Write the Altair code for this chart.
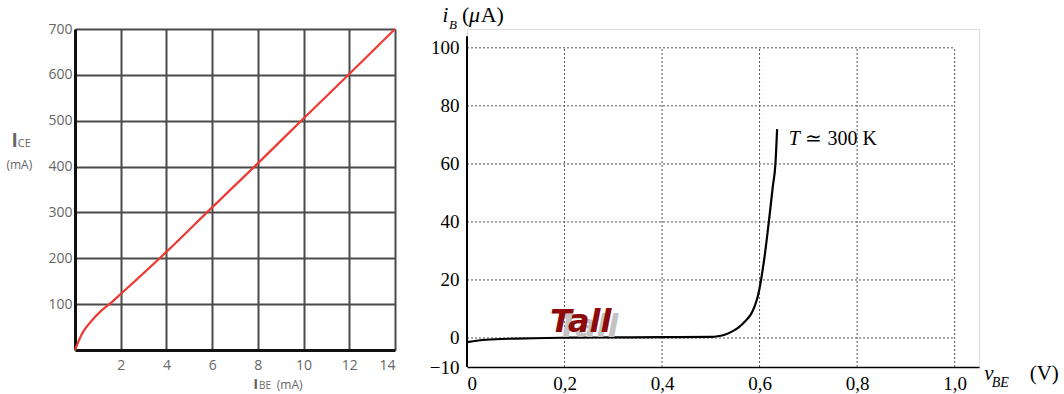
import altair as alt
import pandas as pd

# ---------------- data ----------------
# Left panel: I_CE (mA) vs I_BE (mA)
ibe_ma = [0, 0.3, 0.75, 1.2, 1.6, 2, 4, 6, 8, 10, 12, 14]
ice_ma = [0, 35, 65, 88, 104, 122, 214, 311, 407, 505, 602, 700]
left_x_ticks = [2, 4, 6, 8, 10, 12, 14]
left_y_ticks = [100, 200, 300, 400, 500, 600, 700]

# Right panel: i_B (uA) vs v_BE (V), T = 300 K
vbe_v = [0, 0.04, 0.1, 0.2, 0.3, 0.4, 0.5, 0.514, 0.53, 0.542, 0.555, 0.566,
         0.575, 0.583, 0.59, 0.596, 0.603, 0.611, 0.619, 0.627, 0.6325, 0.636]
ib_ua = [-1.4, -0.6, -0.2, 0.1, 0.2, 0.3, 0.4, 0.6, 1.2, 2.1, 3.4, 5.0,
         6.6, 8.4, 11, 14.1, 20, 29, 40, 52, 60, 72]
right_x_ticks = [0, 0.2, 0.4, 0.6, 0.8, 1.0]
right_y_ticks = [-10, 0, 20, 40, 60, 80, 100]
right_grid_x = [0.2, 0.4, 0.6, 0.8, 1.0]
right_grid_y = [0, 20, 40, 60, 80, 100]

SANS = "Open Sans"
SERIF = "Liberation Serif"

# ---------------- left chart ----------------
lx = alt.Scale(domain=[0, 14], nice=False, zero=False)
ly = alt.Scale(domain=[0, 700], nice=False, zero=False)

left_df = pd.DataFrame({"ibe": ibe_ma, "ice": ice_ma})
left_line = alt.Chart(left_df).mark_line(color="#ec3a32", strokeWidth=2.2,
                                         interpolate="monotone").encode(
    x=alt.X("ibe:Q", scale=lx, axis=alt.Axis(
        values=left_x_ticks, grid=True, gridColor="#4a4a4a", gridWidth=2,
        domainColor="#111", domainWidth=3, ticks=False, labelFont=SANS,
        labelFontSize=14, labelColor="#666", labelPadding=8, title=None)),
    y=alt.Y("ice:Q", scale=ly, axis=alt.Axis(
        values=left_y_ticks, grid=True, gridColor="#4a4a4a", gridWidth=2,
        domainColor="#111", domainWidth=3, ticks=False, labelFont=SANS,
        labelFontSize=14, labelColor="#666", labelPadding=3, title=None)),
)

def ltext(txt, x, y, size, weight="normal"):
    return alt.Chart().mark_text(
        text=txt, font=SANS, fontSize=size, color="#666", align="left",
        baseline="alphabetic", fontWeight=weight,
    ).encode(x=alt.datum(x), y=alt.datum(y))

left_anno = [
    ltext("I", -2.78, 442, 19, "bold"),
    ltext("CE", -2.5, 442, 11),
    ltext("(mA)", -3.0, 395, 12),
    ltext("I", 7.8, -86, 15, "bold"),
    ltext("BE", 8.05, -86, 10),
    ltext("(mA)", 8.83, -86, 12),
]

left = alt.layer(left_line, *left_anno).properties(width=320, height=321)

# ---------------- right chart ----------------
rx = alt.Scale(domain=[0, 1.05], nice=False, zero=False)
ry = alt.Scale(domain=[-10, 106.5], nice=False, zero=False)

gv = pd.DataFrame({"x": right_grid_x, "y": [-10] * len(right_grid_x),
                   "y2": [100] * len(right_grid_x)})
gh = pd.DataFrame({"y": right_grid_y, "x": [0] * len(right_grid_y),
                   "x2": [1.0] * len(right_grid_y)})

grid_v = alt.Chart(gv).mark_rule(color="#555", strokeWidth=1, strokeDash=[2, 2]).encode(
    x=alt.X("x:Q", scale=rx, axis=alt.Axis(
        values=right_x_ticks, grid=False, domainColor="black", domainWidth=1.5,
        ticks=False, labelFont=SERIF, labelFontSize=19, labelColor="black",
        labelPadding=7, title=None,
        labelExpr="datum.value == 0 ? '0' : replace(format(datum.value, '.1f'), '.', ',')")),
    y=alt.Y("y:Q", scale=ry, axis=alt.Axis(
        values=right_y_ticks, grid=False, domain=False, ticks=False,
        labelFont=SERIF, labelFontSize=19, labelColor="black", labelPadding=8,
        title=None)),
    y2="y2:Q",
)
grid_h = alt.Chart(gh).mark_rule(color="#555", strokeWidth=1, strokeDash=[2, 2]).encode(
    x=alt.X("x:Q", scale=rx), x2="x2:Q", y=alt.Y("y:Q", scale=ry))

yaxis_line = alt.Chart().mark_rule(color="black", strokeWidth=2).encode(
    x=alt.datum(0), y=alt.datum(-10), y2=alt.datum(104))

right_df = pd.DataFrame({"vbe": vbe_v, "ib": ib_ua})
curve = alt.Chart(right_df).mark_line(color="black", strokeWidth=2.2,
                                      interpolate="monotone").encode(
    x=alt.X("vbe:Q", scale=rx), y=alt.Y("ib:Q", scale=ry))

def rtext(txt, x, y, size, style="normal", color="black", weight="normal",
          font=SERIF, dx=0, dy=0):
    return alt.Chart().mark_text(
        text=txt, font=font, fontSize=size, fontStyle=style, color=color,
        fontWeight=weight, align="left", baseline="alphabetic", dx=dx, dy=dy,
    ).encode(x=alt.datum(x), y=alt.datum(y))

right_anno = [
    rtext("T", 0.66, 66.5, 20, style="italic"),
    rtext("≃ 300 K", 0.694, 66.5, 20),
    rtext("i", -0.05, 109, 21, style="italic"),
    rtext("B", -0.037, 106.5, 13, style="italic"),
    rtext("(", -0.01, 109, 22),
    rtext("μ", 0.004, 109, 22, style="italic"),
    rtext("A)", 0.028, 109, 22),
    rtext("v", 1.061, -14.5, 21, style="italic"),
    rtext("BE", 1.076, -17, 14, style="italic"),
    rtext("(V)", 1.154, -14.5, 21),
    rtext("Tall", 0.17, 2, 32, style="italic", color="#c4c4c4", weight="bold",
          font="DejaVu Sans", dx=7, dy=5),
    rtext("Tall", 0.17, 2, 32, style="italic", color="#8c0a0a", weight="bold",
          font="DejaVu Sans"),
]

right = alt.layer(grid_v, grid_h, yaxis_line, curve, *right_anno).properties(
    width=512, height=338)

chart = alt.hconcat(left, right, spacing=28).properties(
    padding={"left": 5, "top": 3, "right": 0, "bottom": 0}
).configure_view(strokeWidth=0).configure(background="white")

chart.save("out.html", embed_options={"renderer": "svg", "actions": False})
